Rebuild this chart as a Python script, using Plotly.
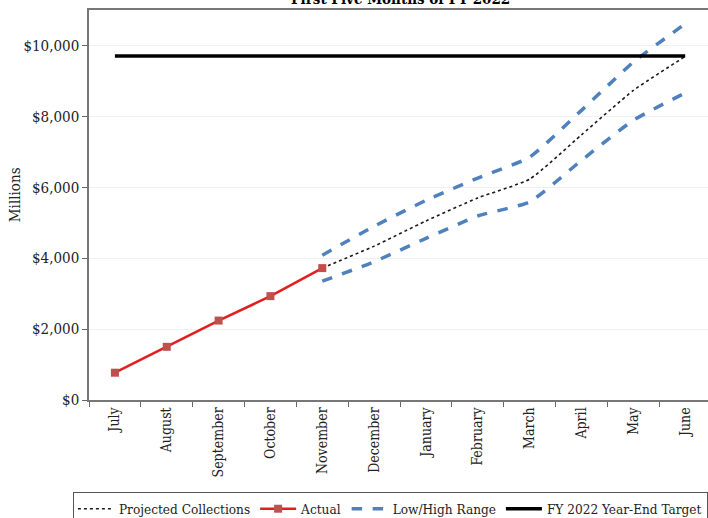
import plotly.graph_objects as go

months = ["July", "August", "September", "October", "November", "December",
          "January", "February", "March", "April", "May", "June"]

actual_months = months[:5]
actual_values = [770, 1500, 2240, 2930, 3720]

proj_months = months[4:]
projected_values = [3720, 4340, 5050, 5700, 6230, 7480, 8730, 9690]
high_values = [4085, 4900, 5630, 6260, 6850, 8170, 9530, 10610]
low_values = [3350, 3900, 4560, 5190, 5590, 6760, 7890, 8660]

target_values = [9700] * 12

y_tickvals = [0, 2000, 4000, 6000, 8000, 10000]
y_ticktext = ["$0", "$2,000", "$4,000", "$6,000", "$8,000", "$10,000"]

FONT = "DejaVu Serif Condensed, DejaVu Serif, serif"
BLUE = "#4f81bd"

fig = go.Figure()

fig.add_trace(go.Scatter(
    x=proj_months, y=projected_values, mode="lines",
    name="Projected Collections",
    line=dict(color="#1a1a1a", width=1.6, dash="dot", shape="spline", smoothing=0.5),
))
fig.add_trace(go.Scatter(
    x=actual_months, y=actual_values, mode="lines+markers",
    name="Actual",
    line=dict(color="#e02020", width=2.6),
    marker=dict(symbol="square", size=8, color="#c0504d"),
))
fig.add_trace(go.Scatter(
    x=proj_months, y=high_values, mode="lines",
    name="Low/High Range", legendgroup="range",
    line=dict(color=BLUE, width=3.5, dash="dash", shape="spline", smoothing=0.5),
))
fig.add_trace(go.Scatter(
    x=proj_months, y=low_values, mode="lines",
    name="Low/High Range", legendgroup="range", showlegend=False,
    line=dict(color=BLUE, width=3.5, dash="dash", shape="spline", smoothing=0.5),
))
fig.add_trace(go.Scatter(
    x=months, y=target_values, mode="lines",
    name="FY 2022 Year-End Target",
    line=dict(color="black", width=3.5),
))

fig.add_annotation(
    text="<b>First Five Months of FY 2022</b>",
    xref="paper", yref="paper", x=0.504, y=1, yshift=11,
    yanchor="middle", showarrow=False,
    font=dict(family=FONT, size=15, color="black"),
)
fig.add_annotation(
    text="Millions", textangle=-90,
    xref="paper", yref="paper", x=0, xshift=-74, y=0.525,
    xanchor="center", yanchor="middle", showarrow=False,
    font=dict(family=FONT, size=15, color="#222"),
)

fig.update_layout(
    width=708, height=518,
    margin=dict(l=89, r=0, t=10, b=118, autoexpand=False),
    paper_bgcolor="white", plot_bgcolor="white",
    font=dict(family=FONT, size=13, color="#222"),
    showlegend=True,
    legend=dict(
        orientation="h", x=-0.026, xanchor="left", y=-0.237, yanchor="top",
        bordercolor="#555", borderwidth=1, font=dict(family=FONT, size=13.5, color="#222"),
        itemwidth=36, tracegroupgap=0,
    ),
    xaxis=dict(
        categoryorder="array", categoryarray=months,
        range=[-0.5, 11.44], automargin=False,
        tickangle=-90, ticks="outside", ticklen=5, tickcolor="#666",
        tickson="boundaries",
        showline=True, linecolor="#777", linewidth=1.5, mirror=True,
        showgrid=False, tickfont=dict(family=FONT, size=14, color="#222"),
    ),
    yaxis=dict(
        range=[0, 11000], tickvals=y_tickvals, ticktext=y_ticktext, automargin=False,
        ticks="outside", ticklen=5, tickcolor="#666",
        showline=True, linecolor="#777", linewidth=1.5,
        showgrid=True, gridcolor="#f0f0f0", gridwidth=1, zeroline=False,
        tickfont=dict(family=FONT, size=15, color="#222"),
    ),
)

fig.write_html("out.html", config={"displayModeBar": False},
               post_script="document.body.style.margin='0';")
